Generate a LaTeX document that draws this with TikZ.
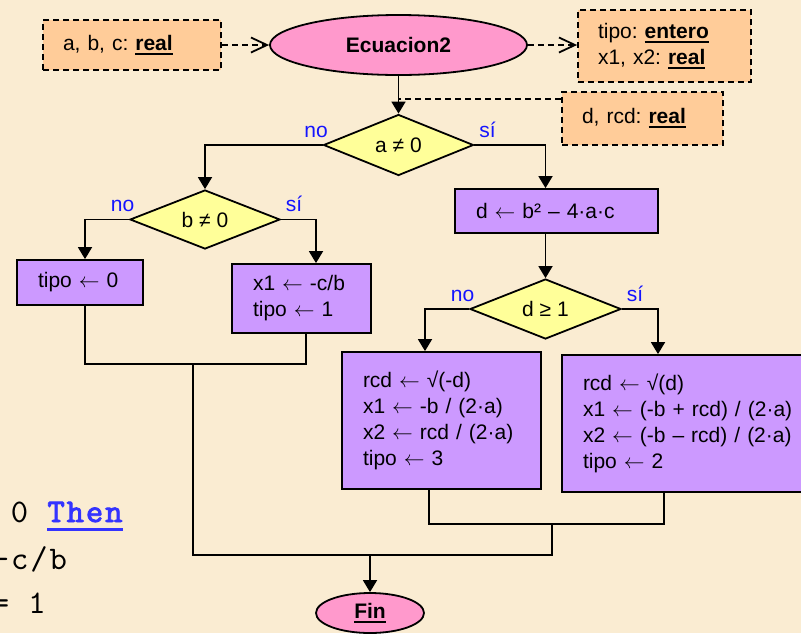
\documentclass[tikz,border=0pt]{standalone}
\usepackage{fontspec}
\setmainfont{Liberation Sans}
\newfontfamily\codefont[LetterSpace=5.8, BoldFont=lmmono10-regular.otf, BoldFeatures={FakeBold=2.5}]{lmmono10-regular.otf}
\usetikzlibrary{shapes.geometric,arrows.meta}

\definecolor{bgcream}{RGB}{250,236,210}
\definecolor{declfill}{RGB}{255,204,153}
\definecolor{termfill}{RGB}{255,153,204}
\definecolor{testfill}{RGB}{255,255,153}
\definecolor{procfill}{RGB}{204,153,255}
\definecolor{branchblue}{RGB}{20,20,255}
\definecolor{codeblue}{RGB}{51,51,255}

% underline with a chosen offset (#1) and lower edge (#2) below the baseline
\newcommand\undlx[3]{\setbox0\hbox{#3}\rlap{\vrule width\wd0 height -#1 depth #2}\box0}
\newcommand\undl[1]{\undlx{2.5pt}{4.5pt}{#1}}
% thin assignment arrow
\newcommand\lar{$\leftarrow$}
\frenchspacing

\begin{document}
\begin{tikzpicture}[
  x=1pt, y=-1pt,
  line width=1.8pt,
  font=\fontsize{21}{26}\selectfont,
  arr/.style={-{Triangle[length=12pt,width=14pt]}},
  dashline/.style={dash pattern=on 6pt off 4pt},
  darr/.style={dashline, -{Straight Barb[length=16pt,width=15pt]}},
  declbox/.style={draw, dashline, fill=declfill, align=left, inner xsep=20pt, inner ysep=0pt},
  procbox/.style={draw, fill=procfill, align=left, inner xsep=21pt, inner ysep=0pt},
  term/.style={draw, ellipse, fill=termfill, inner sep=0pt},
  test/.style={draw, diamond, aspect=2.5, fill=testfill, inner sep=0pt},
  branch/.style={text=branchblue, inner sep=0pt},
  code/.style={font=\codefont\fontsize{33}{40}\selectfont, inner sep=0pt, anchor=base west},
]
\useasboundingbox (0,0) rectangle (801,633);
\fill[bgcream] (0,0) rectangle (801,633);
\clip (0,0) rectangle (801,633);

% code listing lying behind the chart
\node[code] (codeA) at (10,522) {0 {\color{codeblue}\undlx{5.5pt}{8.5pt}{\bfseries Then}}};
\node[code] (codeB) at (-9,569) {-c/b};
\node[code] (codeC) at (-9,613) {= 1};

% header: parameters, procedure, results, locals
\node[declbox, text width=138pt, minimum height=50pt] (inA) at (132,45) {a, b, c: \undl{\bfseries real}};
\node[term, minimum width=257pt, minimum height=60pt] (start) at (398.5,45) {\bfseries Ecuacion2};
\node[declbox, text width=133pt, minimum height=72pt] (outA) at (664.5,46) {tipo: \undl{\bfseries entero}\\x1, x2: \undl{\bfseries real}};
\node[declbox, text width=121pt, minimum height=53pt] (loc) at (642.5,118.5) {d, rcd: \undl{\bfseries real}};

% decisions
\node[test, minimum width=150pt, minimum height=61pt] (qa) at (398.5,145) {a ≠ 0};
\node[test, minimum width=150pt, minimum height=59pt] (qb) at (205,219.5) {b ≠ 0};
\node[test, minimum width=151pt, minimum height=60pt] (qd) at (545.5,309) {d ≥ 1};

% actions
\node[procbox, text width=84pt, minimum height=45pt] (t0) at (80,282.5) {tipo \lar{} 0};
\node[procbox, text width=97pt, minimum height=69pt] (t1) at (301.5,298.5) {x1 \lar{} -c/b\\tipo \lar{} 1};
\node[procbox, text width=161pt, minimum height=44pt] (disc) at (556.5,211) {d \lar{} b² – 4·a·c};
\node[procbox, text width=157pt, minimum height=137pt] (neg) at (441.5,420.5)
  {rcd \lar{} √(-d)\\x1 \lar{} -b / (2·a)\\x2 \lar{} rcd / (2·a)\\tipo \lar{} 3};
\node[procbox, text width=230pt, minimum height=137pt] (pos) at (698,423.5)
  {rcd \lar{} √(d)\\x1 \lar{} (-b + rcd) / (2·a)\\x2 \lar{} (-b – rcd) / (2·a)\\tipo \lar{} 2};

\node[term, minimum width=108pt, minimum height=40pt] (fin) at (370,613) {\undl{\bfseries Fin}};

% branch labels
\node[branch, anchor=base east] (qaNo) at ([xshift=6pt,yshift=8pt]qa.west) {no};
\node[branch, anchor=base west] (qaSi) at ([xshift=4pt,yshift=8pt]qa.east) {sí};
\node[branch, anchor=base east] (qbNo) at ([xshift=6pt,yshift=8pt]qb.west) {no};
\node[branch, anchor=base west] (qbSi) at ([xshift=4pt,yshift=8pt]qb.east) {sí};
\node[branch, anchor=base east] (qdNo) at ([xshift=6pt,yshift=8pt]qd.west) {no};
\node[branch, anchor=base west] (qdSi) at ([xshift=4pt,yshift=8pt]qd.east) {sí};

% data links
\draw[darr] (inA.east) -- (start.west);
\draw[darr] (start.east) -- (start.east -| outA.west);
\coordinate (tap) at (398.5,99);
\draw[dashline] (tap -| loc.west) -- (tap);

% flow
\draw[arr] (start.south) -- (qa.north);
\draw[arr] (qa.west) -| (qb.north);
\draw[arr] (qa.east) -| (disc.north -| qd.north);
\draw[arr] (disc.south -| qd.north) -- (qd.north);
\draw[arr] (qb.west) -| ([xshift=5pt]t0.north);
\draw[arr] (qb.east) -| ([xshift=14.5pt]t1.north);
\draw[arr] (qd.west) -| ([xshift=-16.5pt]neg.north);
\draw[arr] (qd.east) -| ([xshift=-40pt]pos.north);

% joins
\coordinate (joinL) at (193,364);
\coordinate (joinR) at (552,524);
\coordinate (joinB) at (370,555);
\draw ([xshift=5pt]t0.south) |- (joinL) -| ([xshift=4.5pt]t1.south);
\draw ([xshift=-12.5pt]neg.south) |- (joinR) -| ([xshift=-34pt]pos.south);
\draw (joinL) |- (joinB);
\draw (joinR) |- (joinB);
\draw[arr] (joinB) -- (fin.north);
\end{tikzpicture}
\end{document}
